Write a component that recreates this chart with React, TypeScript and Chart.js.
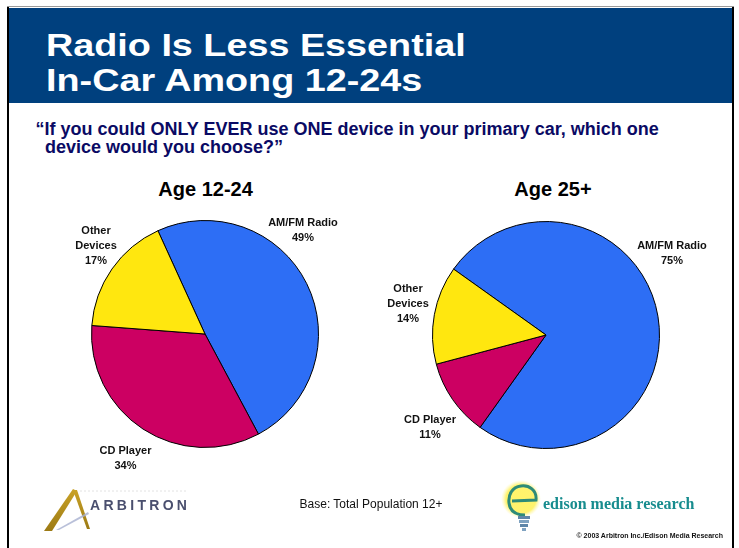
import React, { useEffect, useRef } from 'react';
import { Chart, registerables } from 'chart.js';

Chart.register(...registerables);

// ---- data ----
const categories = ['AM/FM Radio', 'CD Player', 'Other Devices'];
const labelLines = [['AM/FM Radio'], ['CD Player'], ['Other', 'Devices']];
const age1224Values = [49, 34, 17];
const age25Values = [75, 11, 14];
const pieTitles = ['Age 12-24', 'Age 25+'];
const sliceColors = ['#2D6EF5', '#CC0062', '#FFE70F'];

const titleLines = ['Radio Is Less Essential', 'In-Car Among 12-24s'];
const questionLines = [
  '\u201CIf you could ONLY EVER use ONE device in your primary car, which one',
  'device would you choose?\u201D',
];
const baseText = 'Base: Total Population 12+';
const copyrightText = '\u00A9 2003 Arbitron Inc./Edison Media Research';

const SANS = "Arial, 'Liberation Sans', Helvetica, sans-serif";
const SERIF = "'Times New Roman', 'Liberation Serif', serif";

type PieProps = { values: number[]; rotation: number; cx: number; cy: number; radius: number };

function PieChart({ values, rotation, cx, cy, radius }: PieProps) {
  const ref = useRef<HTMLCanvasElement>(null);
  const size = 240;
  useEffect(() => {
    const chart = new Chart(ref.current as HTMLCanvasElement, {
      type: 'pie',
      data: {
        labels: categories,
        datasets: [
          {
            data: values,
            backgroundColor: sliceColors,
            borderColor: '#000000',
            borderWidth: 1,
          },
        ],
      },
      options: {
        responsive: false,
        maintainAspectRatio: false,
        animation: false,
        events: [],
        rotation,
        radius,
        layout: { padding: 0 },
        plugins: { legend: { display: false }, tooltip: { enabled: false } },
      } as any,
    });
    return () => chart.destroy();
  }, []);
  return (
    <canvas
      ref={ref}
      width={size}
      height={size}
      style={{ position: 'absolute', left: cx - size / 2, top: cy - size / 2, width: size, height: size }}
    />
  );
}

function SliceLabel({ lines, value, cx, top }: { lines: string[]; value: number; cx: number; top: number }) {
  return (
    <div
      style={{
        position: 'absolute',
        left: cx - 60,
        top,
        width: 120,
        textAlign: 'center',
        font: `bold 11px ${SANS}`,
        lineHeight: '15px',
        color: '#111111',
        whiteSpace: 'nowrap',
      }}
    >
      {lines.map((l, i) => (
        <div key={i}>{l}</div>
      ))}
      <div>{value}%</div>
    </div>
  );
}

export default function App() {
  const leftLabelPos = [
    { cx: 303, top: 215 },
    { cx: 125.5, top: 443 },
    { cx: 96, top: 222.7 },
  ];
  const rightLabelPos = [
    { cx: 672, top: 237.7 },
    { cx: 430, top: 411.7 },
    { cx: 408, top: 280.7 },
  ];
  return (
    <div
      style={{
        position: 'absolute',
        left: 0,
        top: 0,
        width: 739,
        height: 548,
        overflow: 'hidden',
        background: '#ffffff',
        fontFamily: SANS,
      }}
    >
      {/* frame */}
      <div style={{ position: 'absolute', left: 7, top: 6, width: 727, height: 1, background: '#9a9a9a' }} />
      <div style={{ position: 'absolute', left: 7, top: 7, width: 2, height: 541, background: '#000' }} />
      <div style={{ position: 'absolute', left: 732, top: 7, width: 2, height: 541, background: '#000' }} />
      {/* header band */}
      <div style={{ position: 'absolute', left: 9, top: 8, width: 723, height: 95, background: '#00407E' }} />
      <div
        style={{
          position: 'absolute',
          left: 46,
          top: 28.1,
          font: `bold 32px ${SANS}`,
          lineHeight: '35px',
          color: '#ffffff',
          whiteSpace: 'nowrap',
          transform: 'scaleX(1.18)',
          transformOrigin: 'left top',
        }}
      >
        {titleLines.map((l, i) => (
          <div key={i}>{l}</div>
        ))}
      </div>
      {/* question */}
      <div
        style={{
          position: 'absolute',
          left: 35.5,
          top: 119.8,
          font: `bold 18px ${SANS}`,
          lineHeight: '18px',
          color: '#0A0A64',
          whiteSpace: 'nowrap',
        }}
      >
        <div>{questionLines[0]}</div>
        <div style={{ paddingLeft: 9.5 }}>{questionLines[1]}</div>
      </div>
      {/* pie titles */}
      <div
        style={{
          position: 'absolute',
          left: 205.6 - 100,
          top: 179,
          width: 200,
          textAlign: 'center',
          font: `bold 20px ${SANS}`,
          lineHeight: '20px',
          color: '#000',
        }}
      >
        {pieTitles[0]}
      </div>
      <div
        style={{
          position: 'absolute',
          left: 553 - 100,
          top: 179,
          width: 200,
          textAlign: 'center',
          font: `bold 20px ${SANS}`,
          lineHeight: '20px',
          color: '#000',
        }}
      >
        {pieTitles[1]}
      </div>
      {/* pies */}
      <PieChart values={age1224Values} rotation={-24.5} cx={204.5} cy={333.5} radius={113.5} />
      <PieChart values={age25Values} rotation={-54.5} cx={546} cy={335} radius={113.5} />
      {/* slice labels */}
      {categories.map((c, i) => (
        <SliceLabel key={'l' + c} lines={labelLines[i]} value={age1224Values[i]} cx={leftLabelPos[i].cx} top={leftLabelPos[i].top} />
      ))}
      {categories.map((c, i) => (
        <SliceLabel key={'r' + c} lines={labelLines[i]} value={age25Values[i]} cx={rightLabelPos[i].cx} top={rightLabelPos[i].top} />
      ))}
      {/* logos */}
      <svg
        width={739}
        height={548}
        style={{ position: 'absolute', left: 0, top: 0, pointerEvents: 'none' }}
      >
        <defs>
          <linearGradient id="gold" x1="0" y1="0" x2="0" y2="1">
            <stop offset="0" stopColor="#C9A227" />
            <stop offset="1" stopColor="#9C7A14" />
          </linearGradient>
          <radialGradient id="glow" cx="0.5" cy="0.5" r="0.5">
            <stop offset="0" stopColor="#FFF46A" />
            <stop offset="0.75" stopColor="#FFF36E" />
            <stop offset="1" stopColor="#FFF8B0" stopOpacity="0" />
          </radialGradient>
        </defs>
        {/* Arbitron mark */}
        <line x1={80} y1={491} x2={188} y2={491} stroke="#E2E2E2" strokeWidth={1} strokeDasharray="2 2" />
        <polygon points="44,531 52,531 77,491 73,489" fill="url(#gold)" />
        <polygon points="73,490 77,490 90,529 87,529" fill="url(#gold)" />
        <polygon points="56,530 88,512 89,514 59,530" fill="#A7B0D0" opacity={0.8} />
        {/* Edison mark */}
        <ellipse cx={521} cy={499} rx={20} ry={19} fill="url(#glow)" />
        <path
          d="M512,501 L536,500 C537,490 529,485 521,486 C512,487 508,495 509,503 C510,511 516,515 525,515"
          fill="none"
          stroke="#2E8B78"
          strokeWidth={3}
        />
        <rect x={518} y={516} width={12} height={3} fill="#5F86A8" />
        <rect x={519} y={520} width={10} height={3} fill="#7FA2C0" />
        <rect x={520} y={524} width={8} height={3} fill="#5F86A8" />
        <rect x={522} y={528} width={4} height={3} fill="#7FA2C0" />
      </svg>
      <div
        style={{
          position: 'absolute',
          left: 90,
          top: 498,
          font: `bold 14px ${SANS}`,
          lineHeight: '14px',
          letterSpacing: '3.3px',
          color: '#4A4F6E',
          whiteSpace: 'nowrap',
        }}
      >
        ARBITRON
      </div>
      <div
        style={{
          position: 'absolute',
          left: 371 - 100,
          top: 497.8,
          width: 200,
          textAlign: 'center',
          font: `12px ${SANS}`,
          lineHeight: '12px',
          color: '#111',
          whiteSpace: 'nowrap',
        }}
      >
        {baseText}
      </div>
      <div
        style={{
          position: 'absolute',
          left: 543,
          top: 495.6,
          font: `bold 16px ${SERIF}`,
          lineHeight: '16px',
          color: '#178C8E',
          whiteSpace: 'nowrap',
        }}
      >
        edison media research
      </div>
      <div
        style={{
          position: 'absolute',
          left: 523 - 100,
          width: 300,
          top: 532,
          textAlign: 'right',
          font: `bold 7px ${SANS}`,
          lineHeight: '7px',
          color: '#111',
          whiteSpace: 'nowrap',
        }}
      >
        {copyrightText}
      </div>
    </div>
  );
}
